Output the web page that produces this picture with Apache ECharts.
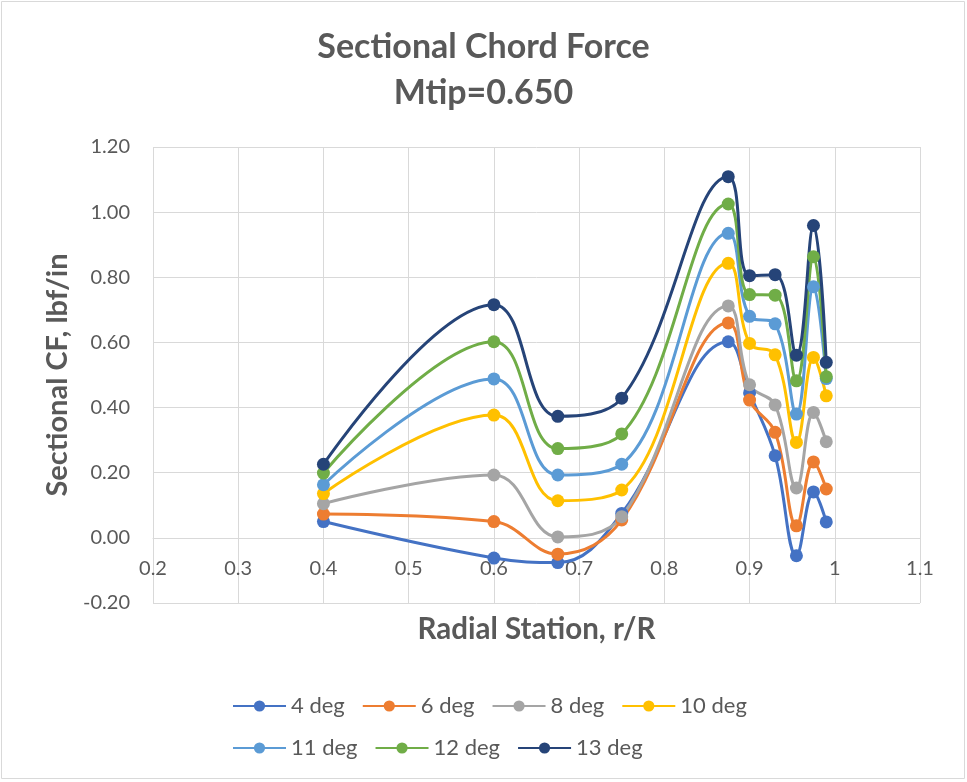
<!DOCTYPE html>
<html>
<head>
<meta charset="utf-8">
<script src="https://cdn.jsdelivr.net/npm/echarts@6/dist/echarts.min.js"></script>
<style>
    html, body { margin: 0; padding: 0; background: #fff; }
    #chart { width: 967px; height: 782px; }
</style>
</head>
<body>
<div id="chart"></div>
<script>
// radial stations r/R
var stations = [0.4, 0.6, 0.675, 0.75, 0.875, 0.9, 0.93, 0.955, 0.975, 0.99];

var deg4 = [0.050, -0.062, -0.076, 0.075, 0.602, 0.445, 0.252, -0.055, 0.141, 0.049];
var deg6 = [0.073, 0.050, -0.050, 0.055, 0.660, 0.423, 0.324, 0.037, 0.233, 0.150];
var deg8 = [0.105, 0.193, 0.003, 0.065, 0.712, 0.470, 0.408, 0.153, 0.385, 0.295];
var deg10 = [0.136, 0.377, 0.114, 0.147, 0.843, 0.597, 0.562, 0.293, 0.554, 0.436];
var deg11 = [0.163, 0.488, 0.193, 0.226, 0.935, 0.680, 0.657, 0.380, 0.771, 0.489];
var deg12 = [0.199, 0.602, 0.274, 0.319, 1.025, 0.747, 0.745, 0.482, 0.863, 0.495];
var deg13 = [0.226, 0.716, 0.373, 0.429, 1.109, 0.805, 0.808, 0.561, 0.959, 0.539];

var seriesNames = ['4 deg', '6 deg', '8 deg', '10 deg', '11 deg', '12 deg', '13 deg'];
var seriesValues = [deg4, deg6, deg8, deg10, deg11, deg12, deg13];
var colors = ['#4472C4', '#ED7D31', '#A5A5A5', '#FFC000', '#5B9BD5', '#70AD47', '#264478'];

var textColor = '#595959';
var gridColor = '#d9d9d9';
var fontFamily = 'Lato, "Open Sans", sans-serif';

function pairs(values) {
    var out = [];
    for (var i = 0; i < stations.length; i++) {
        out.push([stations[i], values[i]]);
    }
    return out;
}

var series = seriesNames.map(function (name, i) {
    return {
        name: name,
        type: 'line',
        smooth: 0.4,
        symbol: 'circle',
        symbolSize: 13,
        color: colors[i],
        lineStyle: { width: 3 },
        data: pairs(seriesValues[i])
    };
});

function legendBlock(names, top) {
    return {
        data: names,
        left: 227,
        top: top,
        itemWidth: 53,
        itemHeight: 14,
        itemGap: 17,
        textStyle: {
            color: textColor,
            fontFamily: fontFamily,
            fontSize: 22,
            width: 60
        }
    };
}

var chart = echarts.init(document.getElementById('chart'));

var option = {
    animation: false,
    color: colors,
    title: {
        text: 'Sectional Chord Force\nMtip=0.650',
        left: 'center',
        top: 19,
        textStyle: {
            color: textColor,
            fontFamily: fontFamily,
            fontWeight: 'bold',
            fontSize: 34,
            lineHeight: 46
        }
    },
    legend: [
        legendBlock(seriesNames.slice(0, 4), 690),
        legendBlock(seriesNames.slice(4), 732)
    ],
    grid: {
        left: 153,
        right: 47,
        top: 147,
        bottom: 179
    },
    xAxis: {
        type: 'value',
        min: 0.2,
        max: 1.1,
        interval: 0.1,
        // axis crosses the value axis at zero, as in the spreadsheet chart
        offset: -65.14,
        name: 'Radial Station, r/R',
        nameLocation: 'middle',
        nameGap: 77,
        nameTextStyle: {
            color: textColor,
            fontFamily: fontFamily,
            fontWeight: 'bold',
            fontSize: 29.5
        },
        axisLine: { show: true, onZero: false, lineStyle: { color: gridColor, width: 1 } },
        axisTick: { show: false },
        axisLabel: {
            color: textColor,
            fontFamily: fontFamily,
            fontSize: 20,
            margin: 21,
            formatter: function (v) { return String(+v.toFixed(1)); }
        },
        splitLine: { show: true, lineStyle: { color: gridColor, width: 1 } }
    },
    yAxis: {
        type: 'value',
        min: -0.2,
        max: 1.2,
        interval: 0.2,
        name: 'Sectional CF, lbf/in',
        nameLocation: 'middle',
        nameGap: 74,
        nameTextStyle: {
            color: textColor,
            fontFamily: fontFamily,
            fontWeight: 'bold',
            fontSize: 29
        },
        axisLine: { show: false },
        axisTick: { show: false },
        axisLabel: {
            color: textColor,
            fontFamily: fontFamily,
            fontSize: 20,
            margin: 23,
            formatter: function (v) { return v.toFixed(2); }
        },
        splitLine: { show: true, lineStyle: { color: gridColor, width: 1 } }
    },
    graphic: [{
        type: 'rect',
        shape: { x: 1.5, y: 1.5, width: 963, height: 777 },
        style: { fill: 'none', stroke: '#d9d9d9', lineWidth: 1 },
        silent: true
    }],
    series: series
};

chart.setOption(option);
</script>
</body>
</html>
